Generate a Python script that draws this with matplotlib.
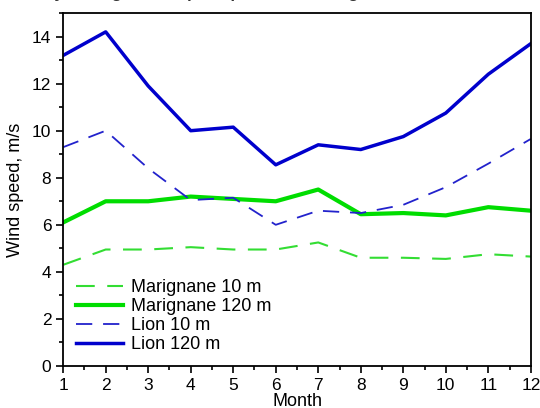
import matplotlib
matplotlib.use("Agg")
import matplotlib.pyplot as plt
from matplotlib.ticker import MultipleLocator

plt.rcParams['font.family'] = ['Liberation Sans', 'DejaVu Sans']

# months on the x axis
months = [1, 2, 3, 4, 5, 6, 7, 8, 9, 10, 11, 12]

# wind speeds (m/s)
marignane_10 = [4.3, 4.95, 4.95, 5.05, 4.95, 4.95, 5.25, 4.6, 4.6, 4.55, 4.75, 4.65]
marignane_120 = [6.1, 7.0, 7.0, 7.2, 7.1, 7.0, 7.5, 6.45, 6.5, 6.4, 6.75, 6.6]
lion_10 = [9.3, 10.0, 8.4, 7.05, 7.15, 6.0, 6.6, 6.5, 6.85, 7.6, 8.6, 9.65]
lion_120 = [13.2, 14.2, 11.9, 10.0, 10.15, 8.55, 9.4, 9.2, 9.75, 10.75, 12.4, 13.7]

fig = plt.figure(figsize=(5.4, 4.08), dpi=100)
ax = fig.add_axes([0.117, 0.103, 0.866, 0.865])

ax.plot(months, marignane_10, color="#33dd33", lw=1.5, dashes=(9, 6), label="Marignane 10 m")
ax.plot(months, marignane_120, color="#00dd00", lw=3, label="Marignane 120 m")
ax.plot(months, lion_10, color="#2222cc", lw=1.3, dashes=(9, 6), label="Lion 10 m")
ax.plot(months, lion_120, color="#0000cc", lw=2.5, label="Lion 120 m")

ax.set_xlim(1, 12)
ax.set_ylim(0, 15)
ax.set_xticks(months)
ax.set_yticks([0, 2, 4, 6, 8, 10, 12, 14])
ax.xaxis.set_minor_locator(MultipleLocator(0.5))
ax.yaxis.set_minor_locator(MultipleLocator(1))
ax.tick_params(which="major", direction="out", length=5, width=1.2, labelsize=12.5)
ax.tick_params(which="minor", direction="out", length=3, width=1.2)
for s in ax.spines.values():
    s.set_linewidth(1.3)

ax.set_xlabel("Month", fontsize=13, labelpad=0)
ax.set_ylabel("Wind speed, m/s", fontsize=13, labelpad=6)

ax.legend(loc="lower left", frameon=False, fontsize=13, handlelength=2.6,
          labelspacing=0.12, borderaxespad=0.5, handletextpad=0.45,
          borderpad=0.2)

# title is cut off at the top in the original, only descenders show
fig.text(0.5, 1.005, "Monthly average wind speed profiles at Marignane and Lion stations",
         ha="center", va="baseline", fontsize=12, fontweight="bold", color="#333333")

fig.savefig("out.png", dpi=100)
